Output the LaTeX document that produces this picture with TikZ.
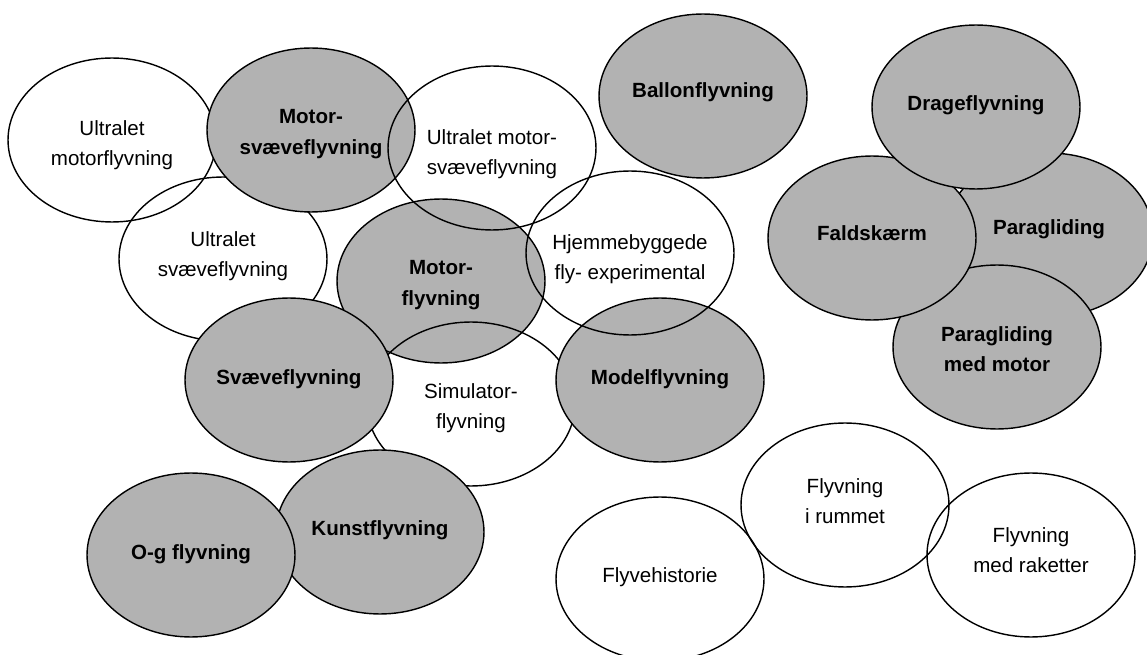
\documentclass[tikz,border=0pt]{standalone}
\usepackage{fontspec}
\setmainfont{Liberation Sans}
\usepackage{tikz}
\usetikzlibrary{shapes}
\definecolor{feltgraa}{RGB}{178,178,178}

\begin{document}
\begin{tikzpicture}[x=0.02cm, y=-0.02cm,
		felt/.style={ellipse, draw, line width=0.8pt, inner sep=0pt,
			minimum width=4.16cm, minimum height=3.28cm},
		hvid/.style={felt},
		graa/.style={felt, fill=feltgraa},
		tekst-hvid/.style={align=center, inner sep=0pt,
			font=\fontsize{11.7}{17.4}\selectfont},
		tekst-graa/.style={tekst-hvid, font=\fontsize{11.7}{17.4}\selectfont\bfseries}]
		\clip (0,0) rectangle (1147,655);
		% order matters: grey ones hide the lines drawn before them
		% name/style/x/y/text shift/text
		\foreach \n/\s/\x/\y/\d/\t in {
			um/hvid/112/140/5/{Ultralet\\motorflyvning},
			us/hvid/223/259/-3/{Ultralet\\svæveflyvning},
			ms/graa/311/130/4/{Motor-\\svæveflyvning},
			mf/graa/441/281/4/{Motor-\\flyvning},
			ums/hvid/492/148/6/{Ultralet motor-\\svæveflyvning},
			sim/hvid/471/404/4/{Simulator-\\flyvning},
			sv/graa/289/380/-1/{Svæveflyvning},
			mod/graa/660/380/-1/{Modelflyvning},
			hj/hvid/630/253/6/{Hjemmebyggede\\fly- experimental},
			ku/graa/380/532/-2/{Kunstflyvning},
			og/graa/191/555/-1/{O-g flyvning},
			ba/graa/703/96/-4/{Ballonflyvning},
			pg/graa/1049/235/-6/{Paragliding},
			pgm/graa/997/347/2/{Paragliding\\med motor},
			fa/graa/872/238/-5/{Faldskærm},
			dr/graa/976/107/-2/{Drageflyvning},
			fh/hvid/660/579/-2/{Flyvehistorie},
			ir/hvid/845/505/-4/{Flyvning\\i rummet},
			ra/hvid/1031/555/-5/{Flyvning\\med raketter}}{
			\node[\s] (\n) at (\x,\y) {};
			\node[tekst-\s] (\n-t) at ([shift={(0,\d)}]\n.center) {\t};
		}
\end{tikzpicture}
\end{document}
